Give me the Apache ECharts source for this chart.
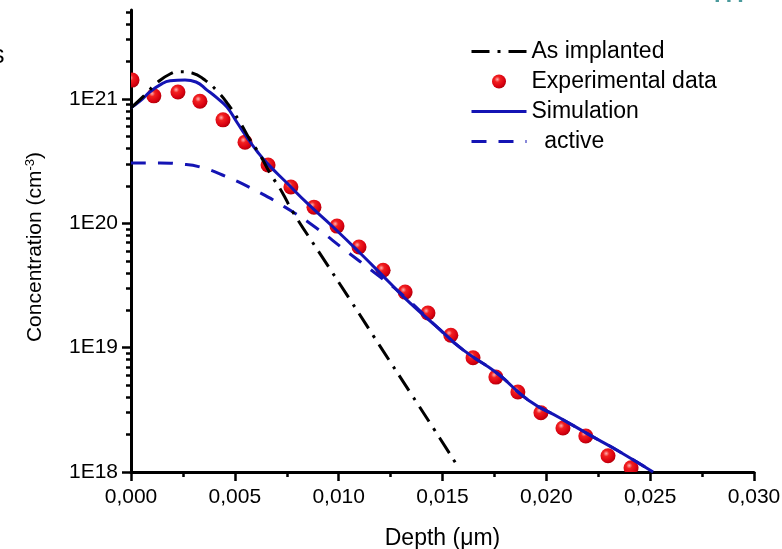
<!DOCTYPE html>
<html>
<head>
<meta charset="utf-8">
<script src="https://cdn.jsdelivr.net/npm/echarts@6/dist/echarts.min.js"></script>
<style>
html,body{margin:0;padding:0;background:#fff;}
#chart{width:782px;height:549px;}
</style>
</head>
<body>
<div id="chart"></div>
<script>
// ---- data (depth in µm, concentration in cm^-3) ----
const expDepth = [0.00005, 0.0011, 0.00226, 0.00332, 0.00443, 0.00549, 0.0066, 0.0077, 0.00881, 0.00992, 0.01098, 0.01214, 0.0132, 0.0143, 0.0154, 0.01647, 0.01757, 0.01863, 0.01974, 0.0208, 0.0219, 0.02297, 0.02408];
const expConc  = [1.42e21, 1.06e21, 1.14e21, 9.6e20, 6.8e20, 4.5e20, 2.95e20, 1.96e20, 1.35e20, 9.5e19, 6.45e19, 4.2e19, 2.8e19, 1.9e19, 1.26e19, 8.3e18, 5.8e18, 4.4e18, 3.0e18, 2.26e18, 1.95e18, 1.35e18, 1.08e18];

const implDepth = [0, 0.00067, 0.00125, 0.00188, 0.00236, 0.00294, 0.00356, 0.00419, 0.00467, 0.00525, 0.00573, 0.00621, 0.00669, 0.00727, 0.0078, 0.0091, 0.01055, 0.01199, 0.01343, 0.01488, 0.01575];
const implConc  = [8.5e20, 1.08e21, 1.35e21, 1.59e21, 1.66e21, 1.62e21, 1.42e21, 1.14e21, 9.1e20, 6.5e20, 4.7e20, 3.55e20, 2.54e20, 1.79e20, 1.23e20, 5.71e19, 2.43e19, 1.03e19, 4.4e18, 1.86e18, 1.10e18];

const simDepth = [0, 0.00043, 0.00091, 0.0014, 0.00188, 0.0026, 0.00313, 0.00366, 0.00414, 0.00462, 0.0051, 0.00559, 0.00607, 0.00655, 0.00751, 0.00847, 0.00973, 0.01103, 0.01247, 0.01343, 0.01473, 0.01599, 0.01762, 0.01912, 0.02066, 0.0221, 0.02355, 0.02514];
const simConc  = [8.5e20, 9.6e20, 1.14e21, 1.30e21, 1.40e21, 1.42e21, 1.37e21, 1.18e21, 1.02e21, 8.6e20, 6.5e20, 4.9e20, 3.8e20, 3.05e20, 2.11e20, 1.46e20, 9.35e19, 5.77e19, 3.31e19, 2.29e19, 1.47e19, 9.6e18, 6.25e18, 3.8e18, 2.72e18, 1.98e18, 1.45e18, 1.0e18];

const actDepth = [0, 0.0014, 0.00236, 0.00332, 0.00453, 0.00597, 0.00742, 0.00886, 0.0103, 0.01175, 0.01319, 0.01473, 0.01599, 0.01762, 0.01912, 0.02066, 0.0221, 0.02355, 0.02514];
const actConc  = [3.06e20, 3.06e20, 3.0e20, 2.84e20, 2.40e20, 1.85e20, 1.35e20, 9.35e19, 6.1e19, 3.99e19, 2.56e19, 1.47e19, 9.6e18, 6.25e18, 3.8e18, 2.72e18, 1.98e18, 1.45e18, 1.0e18];

const seriesNames = ['As implanted', 'Experimental data', 'Simulation', 'active'];
const yMajorTicks = [1e18, 1e19, 1e20, 1e21];
const yMin = 1e18, yMax = 5.2e21;
const xMin = 0, xMax = 0.03, xStep = 0.005;

const yMinorTicks = [];
for (let e = 18; e <= 21; e++) {
  for (let m = 2; m <= 9; m++) {
    const v = m * Math.pow(10, e);
    if (v <= yMax) yMinorTicks.push(v);
  }
}

const zip = (a, b) => a.map((v, i) => [v, b[i]]);
const FONT = "'Liberation Sans', Arial, sans-serif";
const BLUE = '#1414b4';
const LW = 3;
const sphere = {
  type: 'radial', x: 0.38, y: 0.35, r: 0.7,
  colorStops: [
    { offset: 0, color: '#ffb0b0' },
    { offset: 0.28, color: '#f22020' },
    { offset: 0.75, color: '#d80010' },
    { offset: 1, color: '#a80008' }
  ]
};
const hiddenSym = { opacity: 0 };

const chart = echarts.init(document.getElementById('chart'), null, { renderer: 'canvas' });
chart.setOption({
  backgroundColor: '#fff',
  animation: false,
  textStyle: { fontFamily: FONT },
  grid: { left: 131, right: 28, top: 10, bottom: 77, containLabel: false, outerBoundsMode: 'none' },
  legend: {
    orient: 'vertical',
    left: 465, top: 35,
    itemWidth: 55, itemHeight: 14, itemGap: 7,
    selectedMode: false,
    lineStyle: { width: 3 },
    textStyle: { fontFamily: FONT, fontSize: 23, color: '#000' },
    formatter: n => n === 'active' ? '  active' : n,
    data: [
      { name: seriesNames[0], itemStyle: hiddenSym },
      { name: seriesNames[1], icon: 'circle', itemStyle: { color: sphere } },
      { name: seriesNames[2], itemStyle: hiddenSym },
      { name: seriesNames[3], itemStyle: hiddenSym }
    ]
  },
  xAxis: {
    type: 'value', min: xMin, max: xMax, interval: xStep,
    name: 'Depth (\u03bcm)', nameLocation: 'middle', nameGap: 55,
    nameTextStyle: { fontFamily: FONT, fontSize: 23, color: '#000' },
    axisLine: { lineStyle: { color: '#000', width: 3 } },
    axisTick: { length: 9, lineStyle: { color: '#000', width: 2.5 } },
    minorTick: { show: true, splitNumber: 2, length: 5, lineStyle: { color: '#000', width: 2.5 } },
    splitLine: { show: false },
    axisLabel: { fontFamily: FONT, fontSize: 21, color: '#000', margin: 15,
      formatter: v => v.toFixed(3).replace('.', ',') }
  },
  yAxis: [{
    type: 'log', min: yMin, max: yMax, logBase: 10,
    name: 'Concentration (cm{sup|-3})', nameLocation: 'middle', nameGap: 84, nameRotate: 90,
    nameTextStyle: { fontFamily: FONT, fontSize: 21, color: '#000', padding: [0, 12, 0, 0],
      rich: { sup: { fontFamily: FONT, fontSize: 13, color: '#000', verticalAlign: 'top', padding: [0, 0, 10, 0] } } },
    axisLine: { show: true, lineStyle: { color: '#000', width: 3 } },
    axisTick: { length: 9, lineStyle: { color: '#000', width: 2.5 }, customValues: yMajorTicks },
    splitLine: { show: false },
    minorTick: { show: false },
    axisLabel: { fontFamily: FONT, fontSize: 21, color: '#000', margin: 13, customValues: yMajorTicks,
      formatter: v => '1E' + Math.round(Math.log10(v)) }
  }, {
    type: 'log', min: yMin, max: yMax, logBase: 10, position: 'left',
    axisLine: { show: false },
    axisTick: { show: true, length: 5, lineStyle: { color: '#000', width: 2.5 }, customValues: yMinorTicks },
    axisLabel: { show: false },
    splitLine: { show: false }
  }],
  graphic: [
    { type: 'text', left: -8, top: 44, style: { text: 's', font: "25px " + FONT, fill: '#000' } },
    { type: 'text', left: 713, top: -27, style: { text: 'm', font: "38px " + FONT, fill: '#4a9a9c' } }
  ],
  series: [
    {
      name: seriesNames[1], type: 'custom', clip: true, z: 2,
      itemStyle: { color: '#e01018' },
      data: zip(expDepth, expConc),
      encode: { x: 0, y: 1 },
      renderItem: (params, api) => {
        const p = api.coord([api.value(0), api.value(1)]);
        return { type: 'circle', shape: { cx: p[0], cy: p[1], r: 7.5 }, style: { fill: sphere } };
      }
    },
    {
      name: seriesNames[0], type: 'line', smooth: 0.5, showSymbol: false, symbol: 'none', z: 4,
      data: zip(implDepth, implConc),
      itemStyle: { color: '#000' },
      lineStyle: { color: '#000', width: LW, type: [18, 8, 3, 8] }
    },
    {
      name: seriesNames[2], type: 'line', smooth: 0.5, showSymbol: false, symbol: 'none', z: 3,
      data: zip(simDepth, simConc),
      itemStyle: { color: BLUE },
      lineStyle: { color: BLUE, width: LW }
    },
    {
      name: seriesNames[3], type: 'line', smooth: 0.5, showSymbol: false, symbol: 'none', z: 3,
      data: zip(actDepth, actConc),
      itemStyle: { color: BLUE },
      lineStyle: { color: BLUE, width: LW, type: [15, 12] }
    }
  ]
});
</script>
</body>
</html>
